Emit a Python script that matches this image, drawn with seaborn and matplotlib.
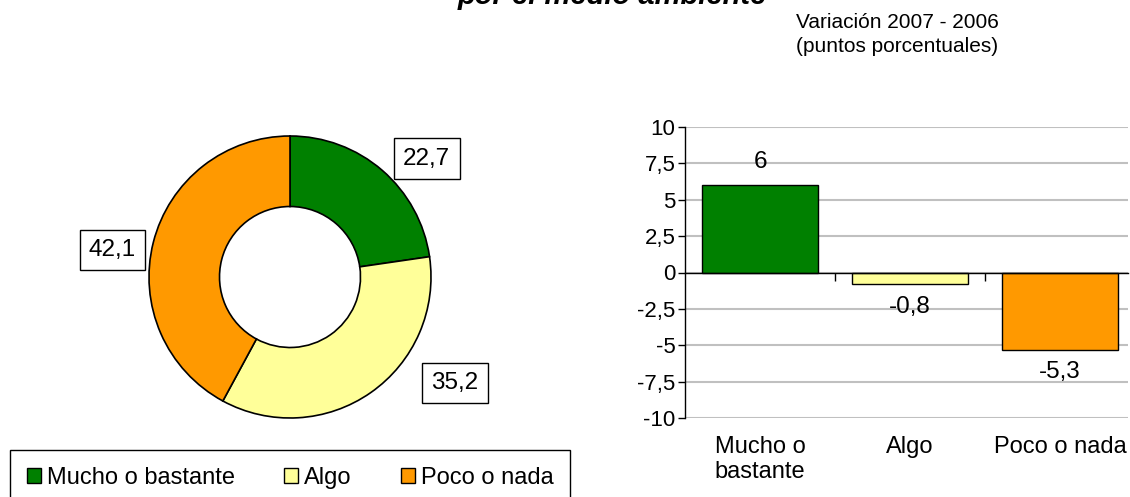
import matplotlib
matplotlib.use("Agg")
import matplotlib.pyplot as plt
import matplotlib.patches as mpatches
from matplotlib.ticker import FuncFormatter
import numpy as np
import pandas as pd
import seaborn as sns

# data
categories = ["Mucho o bastante", "Algo", "Poco o nada"]
axis_labels = ["Mucho o\nbastante", "Algo", "Poco o nada"]
shares_2007 = [22.7, 35.2, 42.1]
change_07_06 = [6.0, -0.8, -5.3]
colors = ["#008000", "#FFFF99", "#FF9900"]

title = "por el medio ambiente"
subtitle = "Variación 2007 - 2006\n(puntos porcentuales)"


def coma(v):
    return f"{v:g}".replace(".", ",")


sns.set_theme(style="white")
plt.rcParams["font.family"] = ["Liberation Sans", "DejaVu Sans"]
plt.rcParams["text.color"] = "black"
plt.rcParams["xtick.color"] = "black"
plt.rcParams["ytick.color"] = "black"

W, H = 1130, 497
fig = plt.figure(figsize=(W / 100, H / 100), dpi=100)

# donut
ax_pie = fig.add_axes([130 / W, 1 - 437 / H, 320 / W, 320 / H])
ax_pie.pie(shares_2007, colors=colors, startangle=90, counterclock=False, radius=1,
           wedgeprops=dict(width=0.5, edgecolor="black", linewidth=1.2))
lim = 160 / 141
ax_pie.set_xlim(-lim, lim)
ax_pie.set_ylim(-lim, lim)
ax_pie.set_aspect("equal")
ax_pie.axis("off")
label_pos = [(0.97, 0.84), (1.17, -0.75), (-1.26, 0.19)]
for v, (x, y) in zip(shares_2007, label_pos):
    ax_pie.text(x, y, coma(v), ha="center", va="center", fontsize=17.5, clip_on=False,
                bbox=dict(boxstyle="square,pad=0.38", fc="white", ec="black", lw=1))

# variation bars
ax = fig.add_axes([685 / W, 1 - 418 / H, 442.5 / W, 291 / H])
df = pd.DataFrame({"cat": categories, "val": change_07_06})
sns.barplot(data=df, x="cat", y="val", hue="cat", palette=colors, legend=False,
            width=0.77, edgecolor="black", linewidth=1, saturation=1, ax=ax)
ax.set_xlim(-0.5, 2.45)
ax.set_ylim(-10, 10)
ax.set_yticks(np.arange(-10, 10.1, 2.5))
ax.yaxis.set_major_formatter(FuncFormatter(lambda v, p: coma(v)))
ax.yaxis.grid(True, color="#c0c0c0", linewidth=1.5)
ax.set_axisbelow(True)
ax.set_xlabel("")
ax.set_ylabel("")
for s in ["top", "right"]:
    ax.spines[s].set_visible(False)
ax.spines["left"].set_color("black")
ax.spines["left"].set_linewidth(1)
ax.spines["bottom"].set_position(("data", 0))
ax.spines["bottom"].set_color("black")
ax.spines["bottom"].set_linewidth(1)
ax.set_xticks([0.5, 1.5])
ax.set_xticklabels([])
ax.tick_params(axis="x", direction="out", length=6, width=1, bottom=True)
ax.tick_params(axis="y", direction="out", length=5, width=1, left=True,
               labelsize=16, pad=2)
for c in ax.containers:
    ax.bar_label(c, labels=[coma(b.get_height()) for b in c], padding=8.5, fontsize=17.5)
for i, lab in enumerate(axis_labels):
    ax.annotate(lab, xy=(i, -10), xytext=(0, -13), textcoords="offset points",
                ha="center", va="top", multialignment="left", fontsize=17,
                annotation_clip=False)

# texts
fig.text(612 / W, 1 - 4 / H, title, ha="center", va="baseline", fontsize=21,
         weight="bold", style="italic")
fig.text(897 / W, 1 - 13 / H, subtitle, ha="center", va="top", fontsize=15,
         linespacing=1.35)

# legend
handles = [mpatches.Patch(facecolor=c, edgecolor="black", linewidth=1) for c in colors]
leg = fig.legend(handles, categories, loc="upper left", ncol=3, mode="expand",
                 bbox_to_anchor=(10 / W, 0, 560 / W, 1 - 450 / H), fontsize=17,
                 frameon=True, fancybox=False, framealpha=1, borderpad=0.7,
                 borderaxespad=0, handlelength=0.6, handleheight=0.6,
                 handletextpad=0.25)
leg.get_frame().set_edgecolor("black")
leg.get_frame().set_linewidth(1)

fig.savefig("out.png", dpi=100)
